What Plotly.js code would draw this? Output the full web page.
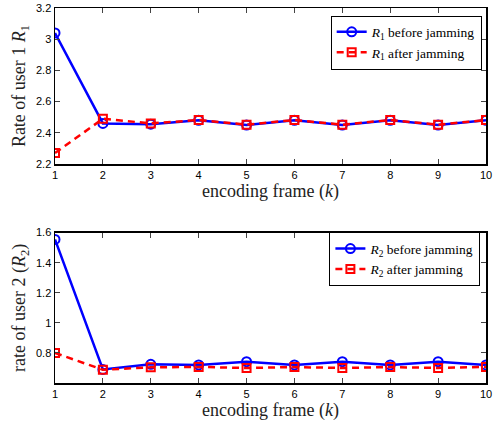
<!DOCTYPE html>
<html>
<head>
<meta charset="utf-8">
<script src="https://cdn.plot.ly/plotly-3.0.1.min.js"></script>
<style>html,body{margin:0;padding:0;background:#fff;}#chart{width:494px;height:423px;}</style>
</head>
<body>
<div id="chart"></div>
<script>
var frames = [1, 2, 3, 4, 5, 6, 7, 8, 9, 10];
var r1Before = [3.04, 2.46, 2.455, 2.48, 2.45, 2.48, 2.45, 2.48, 2.45, 2.48];
var r1After  = [2.27, 2.49, 2.46, 2.482, 2.452, 2.482, 2.452, 2.482, 2.452, 2.482];
var r2Before = [1.555, 0.69, 0.724, 0.72, 0.742, 0.72, 0.742, 0.72, 0.742, 0.72];
var r2After  = [0.80, 0.688, 0.704, 0.707, 0.70, 0.706, 0.70, 0.706, 0.70, 0.707];
var yTicks1 = [2.2, 2.4, 2.6, 2.8, 3, 3.2];
var yTicks2 = [0.8, 1, 1.2, 1.4, 1.6];

var serif = "Liberation Serif, Times New Roman, serif";
var sans = "Liberation Sans, Arial, sans-serif";

var traces = [
  {x: frames, y: r1Before, name: '<i>R</i><sub>1</sub> before jamming', xaxis: 'x', yaxis: 'y', legend: 'legend',
   mode: 'lines+markers', line: {color: '#0000ff', width: 2.5},
   marker: {symbol: 'circle-open', size: 9, color: '#0000ff', line: {width: 2}}},
  {x: frames, y: r1After, name: '<i>R</i><sub>1</sub> after jamming', xaxis: 'x', yaxis: 'y', legend: 'legend',
   mode: 'lines+markers', line: {color: '#ff0000', width: 2.5, dash: '7px,5px'},
   marker: {symbol: 'square-open', size: 8, color: '#ff0000', line: {width: 2}}},
  {x: frames, y: r2Before, name: '<i>R</i><sub>2</sub> before jamming', xaxis: 'x2', yaxis: 'y2', legend: 'legend2',
   mode: 'lines+markers', line: {color: '#0000ff', width: 2.5},
   marker: {symbol: 'circle-open', size: 9, color: '#0000ff', line: {width: 2}}},
  {x: frames, y: r2After, name: '<i>R</i><sub>2</sub> after jamming', xaxis: 'x2', yaxis: 'y2', legend: 'legend2',
   mode: 'lines+markers', line: {color: '#ff0000', width: 2.5, dash: '7px,5px'},
   marker: {symbol: 'square-open', size: 8, color: '#ff0000', line: {width: 2}}}
];

function xax(anchor) {
  return {
    anchor: anchor, range: [1, 10], tickvals: frames, ticks: 'inside', ticklen: 5,
    mirror: 'ticks', showline: true, linecolor: '#000', linewidth: 1.5, showgrid: false, zeroline: false,
    tickfont: {family: sans, size: 11, color: '#000'},
    title: {text: 'encoding frame (<i>k</i>)', font: {family: serif, size: 18, color: '#222'}, standoff: 3}
  };
}
function yax(anchor, domain, range, ticks, title) {
  return {
    anchor: anchor, domain: domain, range: range, tickvals: ticks, ticks: 'inside', ticklen: 5,
    mirror: 'ticks', showline: true, linecolor: '#000', linewidth: 1.5, showgrid: false, zeroline: false,
    tickfont: {family: sans, size: 11, color: '#000'},
    title: {text: title, font: {family: serif, size: 18, color: '#222'}, standoff: 5}
  };
}

var legendStyle = {
  xanchor: 'right', yanchor: 'top', bgcolor: '#fff', bordercolor: '#000', borderwidth: 1,
  font: {family: serif, size: 13.5, color: '#000'}, tracegroupgap: 0, itemwidth: 30
};

var layout = {
  width: 494, height: 423,
  margin: {l: 55, r: 8, t: 8, b: 40},
  paper_bgcolor: '#fff', plot_bgcolor: '#fff',
  showlegend: true,
  xaxis: xax('y'),
  yaxis: yax('x', [0.584, 1], [2.2, 3.2], yTicks1, 'Rate of user 1 <i>R</i><sub>1</sub>'),
  xaxis2: xax('y2'),
  yaxis2: yax('x2', [0, 0.401], [0.6, 1.6], yTicks2, 'rate of user 2 (<i>R</i><sub>2</sub>)'),
  legend: Object.assign({x: 0.99, y: 0.98}, legendStyle),
  legend2: Object.assign({x: 0.987, y: 0.402}, legendStyle)
};

Plotly.newPlot('chart', traces, layout, {staticPlot: true, displayModeBar: false});
</script>
</body>
</html>
